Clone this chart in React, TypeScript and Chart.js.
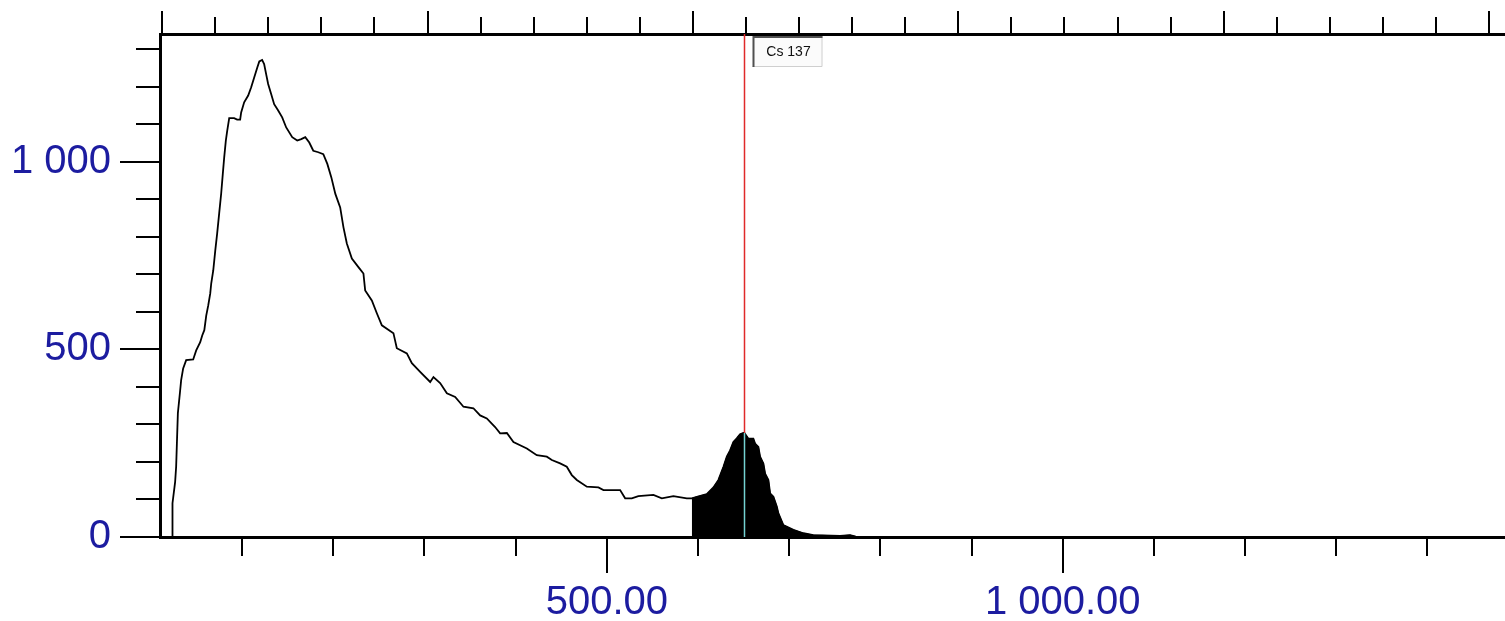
import React, { useEffect, useRef } from "react";
import { Chart, registerables } from "chart.js";

Chart.register(...registerables);

// Spectrum data (energy, counts)
const ENERGY = [
  23.7, 23.7, 26.6, 27.7, 29.6, 31.8, 33.2, 35.4, 38.7, 46.4,
  49.7, 54.1, 56.3, 58.6, 60.7, 62.9, 65.1, 66.2, 68.4, 70.6,
  72.7, 74.9, 77.1, 78.9, 80.4, 82.2, 83.7, 85.9, 91.3, 94.6,
  97.9, 99.0, 102.3, 106.7, 110.0, 113.3, 116.7, 118.9, 122.0, 124.2,
  126.4, 128.6, 131.9, 135.2, 139.6, 144.0, 148.4, 155.0, 160.5, 164.9,
  169.3, 173.7, 178.1, 183.6, 189.1, 193.5, 197.9, 202.3, 207.6, 211.2,
  214.9, 220.4, 227.6, 233.1, 235.0, 242.3, 247.8, 253.3, 266.0, 269.7,
  280.7, 286.2, 295.3, 306.3, 309.9, 317.2, 324.6, 333.7, 342.8, 353.7,
  361.1, 368.4, 377.5, 383.0, 390.4, 397.6, 412.3, 423.2, 434.2, 439.7,
  448.8, 456.1, 461.6, 467.1, 478.1, 490.8, 496.3, 514.6, 520.1, 527.4,
  534.6, 551.1, 560.3, 573.0, 587.7, 593.2, 598.7, 609.6, 616.9, 622.4,
  627.9, 631.6, 635.2, 638.8, 642.5, 646.1, 649.8, 650.9, 655.3, 660.7,
  662.6, 666.2, 668.1, 671.7, 673.6, 677.2, 679.1, 682.7, 686.4, 688.2,
  693.6, 704.6, 715.6, 726.5, 755.8, 766.8, 773.0, 788.7, 1485,
];
const COUNTS = [
  0, 90, 147, 187, 330, 383, 418, 449, 471, 473,
  497, 519, 537, 551, 590, 617, 649, 676, 710, 763,
  809, 862, 915, 968, 1011, 1056, 1082, 1116, 1116, 1112,
  1112, 1131, 1158, 1176, 1198, 1224, 1251, 1267, 1271, 1260,
  1233, 1207, 1180, 1153, 1136, 1118, 1091, 1065, 1056, 1060,
  1065, 1051, 1029, 1025, 1020, 994, 958, 914, 878, 825,
  782, 742, 719, 702, 657, 630, 596, 564, 543, 503,
  489, 463, 440, 413, 426, 410, 383, 373, 347, 343,
  324, 316, 293, 276, 277, 253, 236, 218, 214, 205,
  196, 187, 165, 152, 134, 132, 125, 125, 103, 103,
  109, 112, 103, 109, 103, 103, 107, 114, 132, 152,
  187, 214, 231, 253, 263, 274, 277, 277, 262, 262,
  249, 240, 214, 196, 169, 152, 116, 107, 81, 63,
  32, 19, 10, 5, 3, 5, 1, 0, 0,
];

// Region of interest (filled) and marker
const FILL_START = 593.2;
const MARKER_ENERGY = 650;
const MARKER_LABEL = "Cs 137";

// Axes
const X_MIN = 10;
const X_MAX = 1485;
const X_TICKS = [100, 200, 300, 400, 500, 600, 700, 800, 900, 1000, 1100, 1200, 1300, 1400];
const X_LABELS: Record<number, string> = { 500: "500.00", 1000: "1 000.00" };

const Y_MIN = 0;
const Y_MAX = 1340;
const Y_TICKS = [0, 100, 200, 300, 400, 500, 600, 700, 800, 900, 1000, 1100, 1200, 1300];
const Y_LABELS: Record<number, string> = { 0: "0", 500: "500", 1000: "1 000" };

const CH_MIN = -2;
const CH_MAX = 1265;
const CH_TICKS = [
  0, 50, 100, 150, 200, 250, 300, 350, 400, 450, 500, 550, 600,
  650, 700, 750, 800, 850, 900, 950, 1000, 1050, 1100, 1150, 1200, 1250,
];
const CH_MAJOR = [0, 250, 500, 750, 1000, 1250];

const LABEL_COLOR = "#1c1ca0";
const FONT = "'Liberation Sans', Arial, sans-serif";

function countsAt(e: number): number {
  for (let i = 1; i < ENERGY.length; i++) {
    if (ENERGY[i] >= e) {
      const e0 = ENERGY[i - 1], e1 = ENERGY[i];
      const t = e1 === e0 ? 1 : (e - e0) / (e1 - e0);
      return COUNTS[i - 1] + t * (COUNTS[i] - COUNTS[i - 1]);
    }
  }
  return 0;
}

const zeroPad = (scale: any) => {
  scale.paddingTop = 0;
  scale.paddingBottom = 0;
  scale.paddingLeft = 0;
  scale.paddingRight = 0;
};

const decorPlugin = {
  id: "spectrumDecor",
  afterDatasetsDraw(chart: any) {
    const ctx = chart.ctx;
    const { top, bottom } = chart.chartArea;
    const xs = chart.scales.x;
    const ys = chart.scales.y;
    const mx = Math.round(xs.getPixelForValue(MARKER_ENERGY)) + 0.5;
    const py = ys.getPixelForValue(countsAt(MARKER_ENERGY));
    ctx.save();
    ctx.lineWidth = 1.5;
    ctx.strokeStyle = "#e02a2a";
    ctx.beginPath();
    ctx.moveTo(mx, top);
    ctx.lineTo(mx, py);
    ctx.stroke();
    ctx.strokeStyle = "#74d2d2";
    ctx.beginPath();
    ctx.moveTo(mx, py);
    ctx.lineTo(mx, bottom);
    ctx.stroke();

    // label box
    const bx = mx + 8;
    const by = top + 2;
    const bw = 70;
    const bh = 31;
    ctx.fillStyle = "#fbfbfb";
    ctx.fillRect(bx, by, bw, bh);
    ctx.lineWidth = 1;
    ctx.strokeStyle = "#cfcfcf";
    ctx.beginPath();
    ctx.moveTo(bx + bw - 0.5, by);
    ctx.lineTo(bx + bw - 0.5, by + bh - 0.5);
    ctx.lineTo(bx, by + bh - 0.5);
    ctx.stroke();
    ctx.strokeStyle = "#505050";
    ctx.lineWidth = 2;
    ctx.beginPath();
    ctx.moveTo(bx + 1, by + bh);
    ctx.lineTo(bx + 1, by + 1);
    ctx.lineTo(bx + bw, by + 1);
    ctx.stroke();
    ctx.fillStyle = "#111";
    ctx.font = `14px ${FONT}`;
    ctx.textBaseline = "middle";
    ctx.textAlign = "center";
    ctx.fillText(MARKER_LABEL, bx + bw / 2 + 1, by + bh / 2 + 1);
    ctx.restore();
  },
  afterDraw(chart: any) {
    const ctx = chart.ctx;
    const { left, top, bottom } = chart.chartArea;
    const xs = chart.scales.x;
    const ys = chart.scales.y;
    const ts = chart.scales.x2;
    ctx.save();
    ctx.strokeStyle = "#000";
    ctx.lineWidth = 2;
    const seg = (x1: number, y1: number, x2: number, y2: number) => {
      ctx.beginPath();
      ctx.moveTo(x1, y1);
      ctx.lineTo(x2, y2);
      ctx.stroke();
    };
    X_TICKS.forEach((v) => {
      const px = Math.round(xs.getPixelForValue(v));
      seg(px, bottom, px, bottom + (X_LABELS[v] ? 36 : 19));
    });
    Y_TICKS.forEach((v) => {
      const py = Math.round(ys.getPixelForValue(v));
      seg(left, py, left - (Y_LABELS[v] ? 40 : 24), py);
    });
    CH_TICKS.forEach((v) => {
      const px = Math.round(ts.getPixelForValue(v));
      seg(px, top, px, top - (CH_MAJOR.includes(v) ? 23 : 17));
    });
    ctx.restore();
  },
};

export default function App() {
  const ref = useRef<HTMLCanvasElement | null>(null);

  useEffect(() => {
    if (!ref.current) return;
    const points = ENERGY.map((e, i) => ({ x: e, y: COUNTS[i] }));
    const fillPoints = points.filter((p) => p.x >= FILL_START);

    const chart = new Chart(ref.current, {
      type: "line",
      data: {
        datasets: [
          {
            data: fillPoints,
            borderColor: "#000",
            borderWidth: 1,
            backgroundColor: "#000",
            fill: "origin",
            pointRadius: 0,
            tension: 0,
          },
          {
            data: points,
            borderColor: "#000",
            borderWidth: 1.8,
            fill: false,
            pointRadius: 0,
            tension: 0,
          },
        ],
      },
      options: {
        animation: false,
        responsive: false,
        devicePixelRatio: 1,
        layout: { padding: 0 },
        plugins: {
          legend: { display: false },
          tooltip: { enabled: false },
        },
        scales: {
          x: {
            type: "linear",
            position: "bottom",
            min: X_MIN,
            max: X_MAX,
            afterBuildTicks: (scale: any) => {
              scale.ticks = X_TICKS.map((v) => ({ value: v }));
            },
            afterFit: (scale: any) => {
              scale.height = 84;
              zeroPad(scale);
            },
            grid: { display: false, drawTicks: false },
            border: { display: true, color: "#000", width: 3 },
            ticks: {
              autoSkip: false,
              maxRotation: 0,
              padding: 42,
              color: LABEL_COLOR,
              font: { family: FONT, size: 40 },
              callback: (v: any) => X_LABELS[Number(v)] ?? "",
            },
          },
          x2: {
            type: "linear",
            axis: "x",
            position: "top",
            min: CH_MIN,
            max: CH_MAX,
            afterFit: (scale: any) => {
              scale.height = 34;
              zeroPad(scale);
            },
            grid: { display: false, drawTicks: false },
            border: { display: true, color: "#000", width: 3 },
            ticks: { display: false },
          },
          y: {
            type: "linear",
            position: "left",
            min: Y_MIN,
            max: Y_MAX,
            afterBuildTicks: (scale: any) => {
              scale.ticks = Y_TICKS.map((v) => ({ value: v }));
            },
            afterFit: (scale: any) => {
              scale.width = 160;
              zeroPad(scale);
            },
            grid: { display: false, drawTicks: false },
            border: { display: true, color: "#000", width: 3 },
            ticks: {
              autoSkip: false,
              padding: 49,
              color: LABEL_COLOR,
              font: { family: FONT, size: 40 },
              callback: (v: any) => Y_LABELS[Number(v)] ?? "",
            },
          },
        },
      },
      plugins: [decorPlugin],
    } as any);

    return () => chart.destroy();
  }, []);

  return (
    <div style={{ position: "absolute", left: 0, top: 0, width: 1505, height: 621, background: "#fff", overflow: "hidden" }}>
      <canvas ref={ref} width={1505} height={621} style={{ display: "block" }} />
    </div>
  );
}
